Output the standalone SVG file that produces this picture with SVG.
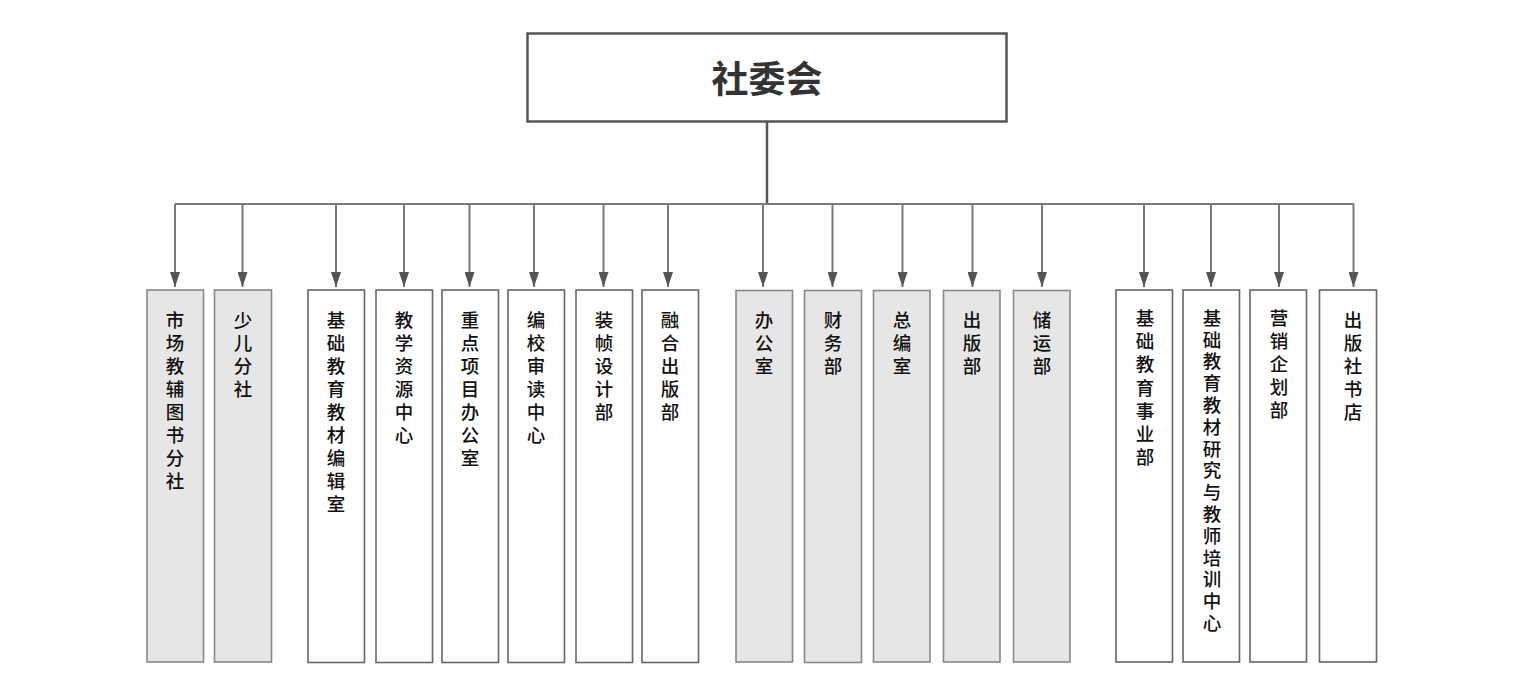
<svg xmlns="http://www.w3.org/2000/svg" width="1530" height="692" viewBox="0 0 1530 692">
<style>
.bg{fill:#ffffff}
.top{fill:#ffffff;stroke:#555555;stroke-width:2.5}
.box{fill:#ffffff;stroke:#666666;stroke-width:1.6}
.gray{fill:#e6e6e6;stroke:#888888;stroke-width:1.6}
.conn{fill:none;stroke:#7a7a7a;stroke-width:2}
.stem{fill:none;stroke:#555555;stroke-width:2.5}
.title{font-family:"Noto Sans CJK SC","Noto Sans",sans-serif;font-size:37px;font-weight:700;fill:#333333;text-anchor:middle}
.lbl{font-family:"Noto Sans CJK SC","Noto Sans",sans-serif;font-size:18.5px;font-weight:500;fill:#111111;text-anchor:middle}
.vert{font-family:"Noto Sans CJK SC","Noto Sans",sans-serif;font-size:18.5px;font-weight:500;fill:#111111;writing-mode:vertical-rl;text-orientation:upright;letter-spacing:3.3px}
</style>
<defs>
<marker id="arr" viewBox="0 0 15 10" refX="15" refY="5" markerWidth="15" markerHeight="10" markerUnits="userSpaceOnUse" orient="auto">
<path d="M0,0 L15,5 L0,10 Z" fill="#555555"/>
</marker>
</defs>
<rect class="bg" x="0" y="0" width="1530" height="692"/>
<g id="node-top">
<rect class="top" x="527.5" y="33.5" width="479" height="88"/>
<text class="title" x="767" y="93">社委会</text>
</g>
<g id="connectors">
<line class="stem" x1="767" y1="122" x2="767" y2="204"/>
<line class="conn" x1="175" y1="204" x2="1354" y2="204"/>
<line class="conn" x1="175" y1="204" x2="175" y2="287" marker-end="url(#arr)"/>
<line class="conn" x1="242.5" y1="204" x2="242.5" y2="287" marker-end="url(#arr)"/>
<line class="conn" x1="336" y1="204" x2="336" y2="287" marker-end="url(#arr)"/>
<line class="conn" x1="404" y1="204" x2="404" y2="287" marker-end="url(#arr)"/>
<line class="conn" x1="469.5" y1="204" x2="469.5" y2="287" marker-end="url(#arr)"/>
<line class="conn" x1="534" y1="204" x2="534" y2="287" marker-end="url(#arr)"/>
<line class="conn" x1="603.5" y1="204" x2="603.5" y2="287" marker-end="url(#arr)"/>
<line class="conn" x1="668" y1="204" x2="668" y2="287" marker-end="url(#arr)"/>
<line class="conn" x1="763" y1="204" x2="763" y2="287" marker-end="url(#arr)"/>
<line class="conn" x1="832.5" y1="204" x2="832.5" y2="287" marker-end="url(#arr)"/>
<line class="conn" x1="902.5" y1="204" x2="902.5" y2="287" marker-end="url(#arr)"/>
<line class="conn" x1="972.5" y1="204" x2="972.5" y2="287" marker-end="url(#arr)"/>
<line class="conn" x1="1042" y1="204" x2="1042" y2="287" marker-end="url(#arr)"/>
<line class="conn" x1="1144" y1="204" x2="1144" y2="287" marker-end="url(#arr)"/>
<line class="conn" x1="1211" y1="204" x2="1211" y2="287" marker-end="url(#arr)"/>
<line class="conn" x1="1279" y1="204" x2="1279" y2="287" marker-end="url(#arr)"/>
<line class="conn" x1="1353.5" y1="204" x2="1353.5" y2="287" marker-end="url(#arr)"/>
</g>
<g id="n1"><rect class="gray" x="147" y="290" width="56.5" height="372"/><text class="lbl" x="175" y="327">市<tspan x="175" dy="23">场</tspan><tspan x="175" dy="23">教</tspan><tspan x="175" dy="23">辅</tspan><tspan x="175" dy="23">图</tspan><tspan x="175" dy="23">书</tspan><tspan x="175" dy="23">分</tspan><tspan x="175" dy="23">社</tspan></text></g>
<g id="n2"><rect class="gray" x="214.5" y="290" width="57" height="372"/><text class="lbl" x="243" y="327">少<tspan x="243" dy="23">儿</tspan><tspan x="243" dy="23">分</tspan><tspan x="243" dy="23">社</tspan></text></g>
<g id="n3"><rect class="box" x="308" y="290" width="56.5" height="372.5"/><text class="lbl" x="336" y="327">基<tspan x="336" dy="23">础</tspan><tspan x="336" dy="23">教</tspan><tspan x="336" dy="23">育</tspan><tspan x="336" dy="23">教</tspan><tspan x="336" dy="23">材</tspan><tspan x="336" dy="23">编</tspan><tspan x="336" dy="23">辑</tspan><tspan x="336" dy="23">室</tspan></text></g>
<g id="n4"><rect class="box" x="376" y="290" width="56.5" height="372.5"/><text class="lbl" x="404" y="327">教<tspan x="404" dy="23">学</tspan><tspan x="404" dy="23">资</tspan><tspan x="404" dy="23">源</tspan><tspan x="404" dy="23">中</tspan><tspan x="404" dy="23">心</tspan></text></g>
<g id="n5"><rect class="box" x="442" y="290" width="56.5" height="372.5"/><text class="lbl" x="470" y="327">重<tspan x="470" dy="23">点</tspan><tspan x="470" dy="23">项</tspan><tspan x="470" dy="23">目</tspan><tspan x="470" dy="23">办</tspan><tspan x="470" dy="23">公</tspan><tspan x="470" dy="23">室</tspan></text></g>
<g id="n6"><rect class="box" x="508" y="290" width="56.5" height="372.5"/><text class="lbl" x="536" y="327">编<tspan x="536" dy="23">校</tspan><tspan x="536" dy="23">审</tspan><tspan x="536" dy="23">读</tspan><tspan x="536" dy="23">中</tspan><tspan x="536" dy="23">心</tspan></text></g>
<g id="n7"><rect class="box" x="576" y="290" width="56.5" height="372.5"/><text class="lbl" x="604" y="327">装<tspan x="604" dy="23">帧</tspan><tspan x="604" dy="23">设</tspan><tspan x="604" dy="23">计</tspan><tspan x="604" dy="23">部</tspan></text></g>
<g id="n8"><rect class="box" x="642" y="290" width="56.5" height="372.5"/><text class="lbl" x="670" y="327">融<tspan x="670" dy="23">合</tspan><tspan x="670" dy="23">出</tspan><tspan x="670" dy="23">版</tspan><tspan x="670" dy="23">部</tspan></text></g>
<g id="n9"><rect class="gray" x="736" y="290.5" width="56.5" height="371.5"/><text class="lbl" x="764" y="327">办<tspan x="764" dy="23">公</tspan><tspan x="764" dy="23">室</tspan></text></g>
<g id="n10"><rect class="gray" x="804.5" y="290.5" width="57" height="372"/><text class="lbl" x="833" y="327">财<tspan x="833" dy="23">务</tspan><tspan x="833" dy="23">部</tspan></text></g>
<g id="n11"><rect class="gray" x="873.5" y="290.5" width="56.5" height="371.5"/><text class="lbl" x="902" y="327">总<tspan x="902" dy="23">编</tspan><tspan x="902" dy="23">室</tspan></text></g>
<g id="n12"><rect class="gray" x="943.5" y="290.5" width="56.5" height="371.5"/><text class="lbl" x="972" y="327">出<tspan x="972" dy="23">版</tspan><tspan x="972" dy="23">部</tspan></text></g>
<g id="n13"><rect class="gray" x="1013.5" y="290.5" width="56.5" height="371.5"/><text class="lbl" x="1042" y="327">储<tspan x="1042" dy="23">运</tspan><tspan x="1042" dy="23">部</tspan></text></g>
<g id="n14"><rect class="box" x="1116" y="290" width="56.5" height="372"/><text class="lbl" x="1145" y="325">基<tspan x="1145" dy="23.2">础</tspan><tspan x="1145" dy="23.2">教</tspan><tspan x="1145" dy="23.2">育</tspan><tspan x="1145" dy="23.2">事</tspan><tspan x="1145" dy="23.2">业</tspan><tspan x="1145" dy="23.2">部</tspan></text></g>
<g id="n15"><rect class="box" x="1183" y="290" width="56.5" height="372"/><text class="vert" x="1212" y="308.5">基础教育教材研究与教师培训中心</text></g>
<g id="n16"><rect class="box" x="1250" y="290" width="56.5" height="372"/><text class="lbl" x="1279" y="325">营<tspan x="1279" dy="23">销</tspan><tspan x="1279" dy="23">企</tspan><tspan x="1279" dy="23">划</tspan><tspan x="1279" dy="23">部</tspan></text></g>
<g id="n17"><rect class="box" x="1319.5" y="290" width="57" height="372"/><text class="lbl" x="1353" y="327">出<tspan x="1353" dy="23">版</tspan><tspan x="1353" dy="23">社</tspan><tspan x="1353" dy="23">书</tspan><tspan x="1353" dy="23">店</tspan></text></g>
</svg>
